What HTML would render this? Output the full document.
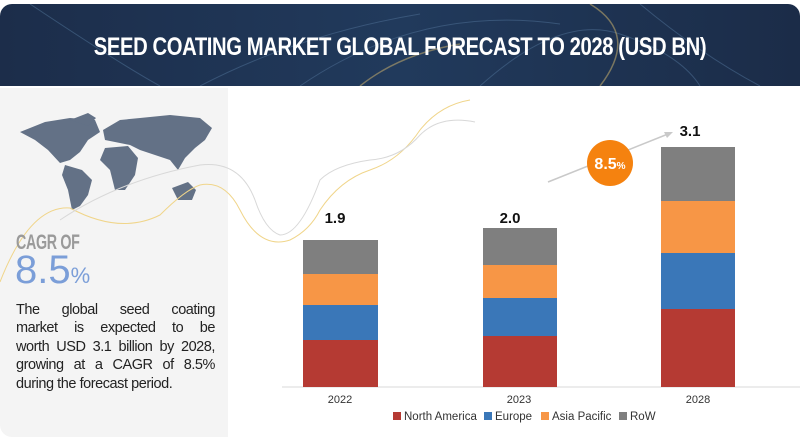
<!DOCTYPE html>
<html><head><meta charset="utf-8"><style>
body{margin:0;width:800px;height:440px;background:#fff;position:relative;overflow:hidden;font-family:"Liberation Sans",sans-serif}
.hdr{position:absolute;left:0;top:4px;width:800px;height:82px;border-radius:12px 12px 0 0;background:linear-gradient(90deg,#1c2d4a,#213a5c 50%,#1b2c48);overflow:hidden}
.title{position:absolute;left:0;top:29px;width:800px;text-align:center;color:#fff;font-weight:bold;font-size:25px;letter-spacing:-0.5px;transform:scaleX(0.81);transform-origin:400px 0}
.left{position:absolute;left:0;top:88px;width:228px;height:349px;background:#f4f4f4;border-radius:0 0 0 12px}
.cagr{position:absolute;left:16px;top:231px;font-weight:bold;font-size:21px;color:#9a9a9a;transform:scaleX(0.68);transform-origin:0 0;letter-spacing:-0.5px}
.big{position:absolute;left:15px;top:250px;font-size:40px;color:#7b9ed8;line-height:40px}
.big span{font-size:22px}
.para{position:absolute;left:16px;top:301px;width:199px;font-size:14.5px;line-height:18.4px;color:#222;letter-spacing:-0.45px}
.para div{white-space:nowrap;text-align:justify;text-align-last:justify}
.para div.l{text-align-last:left}
.bar{position:absolute}
.lbl{position:absolute;font-size:15px;font-weight:bold;color:#111;transform:translateX(-50%)}
.yr{position:absolute;top:394px;font-size:11px;color:#333;transform:translateX(-50%)}
.leg{position:absolute;top:411px;font-size:11.5px;color:#333}
.leg i{display:inline-block;width:8px;height:8px;margin-right:3px;vertical-align:0}
</style></head><body>
<div class="hdr">
<svg width="800" height="82" style="position:absolute;left:0;top:0">
<g fill="none" stroke="#4a6a8e" stroke-width="1" opacity=".6">
<path d="M30 0 Q120 60 160 82"/><path d="M300 82 Q420 0 560 20"/><path d="M480 82 Q560 10 620 30 T700 82"/><path d="M640 0 Q700 50 760 82"/><path d="M200 82 Q300 30 420 10"/>
</g>
<g stroke="#b8a46a" stroke-width="1.5" fill="none" opacity=".6"><path d="M590 0 Q640 30 600 82"/><path d="M360 82 Q400 50 460 40"/></g>
</svg>
<div class="title">SEED COATING MARKET GLOBAL FORECAST TO 2028 (USD BN)</div>
</div>
<div class="left"></div>
<svg width="800" height="440" style="position:absolute;left:0;top:0">
<g fill="#637186">
<path d="M20 132 L45 122 L70 118 L95 120 L100 132 L88 140 L80 152 L70 160 L60 163 L48 150 L35 140 Z"/>
<path d="M70 120 L88 113 L96 118 L88 126 Z"/>
<path d="M65 165 L82 170 L92 180 L88 195 L80 206 L72 210 L68 190 L62 175 Z"/>
<path d="M103 130 L120 120 L140 118 L170 115 L200 118 L212 128 L205 140 L195 148 L185 158 L178 170 L170 160 L155 155 L140 150 L130 145 L115 142 L105 140 Z"/>
<path d="M105 148 L128 146 L138 158 L135 175 L125 190 L115 190 L110 170 L100 160 Z"/>
<path d="M172 188 L188 182 L196 190 L192 200 L178 200 Z"/>
</g>
<g fill="none" stroke-width="1">
<path d="M0 282 Q30 205 70 208 Q120 235 160 215 Q185 190 200 185 Q225 180 240 210 Q260 250 290 240 Q310 230 320 210 Q340 180 370 170 Q400 160 420 130 Q440 105 470 100" stroke="#f0d58a"/>
<path d="M60 220 Q120 180 200 165 Q240 160 255 200 Q265 230 280 235 Q300 235 320 180 Q335 165 370 160 Q400 158 420 135 Q440 115 475 122" stroke="#d8d8d8"/>
</g>
<line x1="548" y1="182" x2="668" y2="134" stroke="#c9c9c9" stroke-width="1.5"/>
<polygon points="673,132 664,132 667,138" fill="#c9c9c9"/>
<circle cx="610" cy="163" r="23" fill="#f5820f"/>
<text x="610" y="169" text-anchor="middle" fill="#fff" font-family="Liberation Sans" font-weight="bold" font-size="16">8.5<tspan font-size="10">%</tspan></text>
<line x1="282" y1="387" x2="800" y2="387" stroke="#d9d9d9"/>
</svg>
<div class="cagr">CAGR OF</div>
<div class="big">8.5<span>%</span></div>
<div class="para"><div>The global seed coating</div><div>market is expected to be</div><div>worth USD 3.1 billion by 2028,</div><div>growing at a CAGR of 8.5%</div><div class="l">during the forecast period.</div></div>

<div class="bar" style="left:303px;top:240px;width:75px;height:34px;background:#7f7f7f"></div>
<div class="bar" style="left:303px;top:274px;width:75px;height:31px;background:#f79646"></div>
<div class="bar" style="left:303px;top:305px;width:75px;height:35px;background:#3a77b8"></div>
<div class="bar" style="left:303px;top:340px;width:75px;height:47px;background:#b53a33"></div>

<div class="bar" style="left:483px;top:228px;width:74px;height:37px;background:#7f7f7f"></div>
<div class="bar" style="left:483px;top:265px;width:74px;height:33px;background:#f79646"></div>
<div class="bar" style="left:483px;top:298px;width:74px;height:38px;background:#3a77b8"></div>
<div class="bar" style="left:483px;top:336px;width:74px;height:51px;background:#b53a33"></div>

<div class="bar" style="left:661px;top:147px;width:74px;height:54px;background:#7f7f7f"></div>
<div class="bar" style="left:661px;top:201px;width:74px;height:52px;background:#f79646"></div>
<div class="bar" style="left:661px;top:253px;width:74px;height:56px;background:#3a77b8"></div>
<div class="bar" style="left:661px;top:309px;width:74px;height:78px;background:#b53a33"></div>

<div class="lbl" style="left:335px;top:210px">1.9</div>
<div class="lbl" style="left:510px;top:210px">2.0</div>
<div class="lbl" style="left:690px;top:123px">3.1</div>

<div class="yr" style="left:340px">2022</div>
<div class="yr" style="left:519px">2023</div>
<div class="yr" style="left:698px">2028</div>

<div class="leg" style="left:393px"><i style="background:#b53a33"></i>North America</div>
<div class="leg" style="left:484px"><i style="background:#3a77b8"></i>Europe</div>
<div class="leg" style="left:541px"><i style="background:#f79646"></i>Asia Pacific</div>
<div class="leg" style="left:619px"><i style="background:#7f7f7f"></i>RoW</div>
</body></html>
